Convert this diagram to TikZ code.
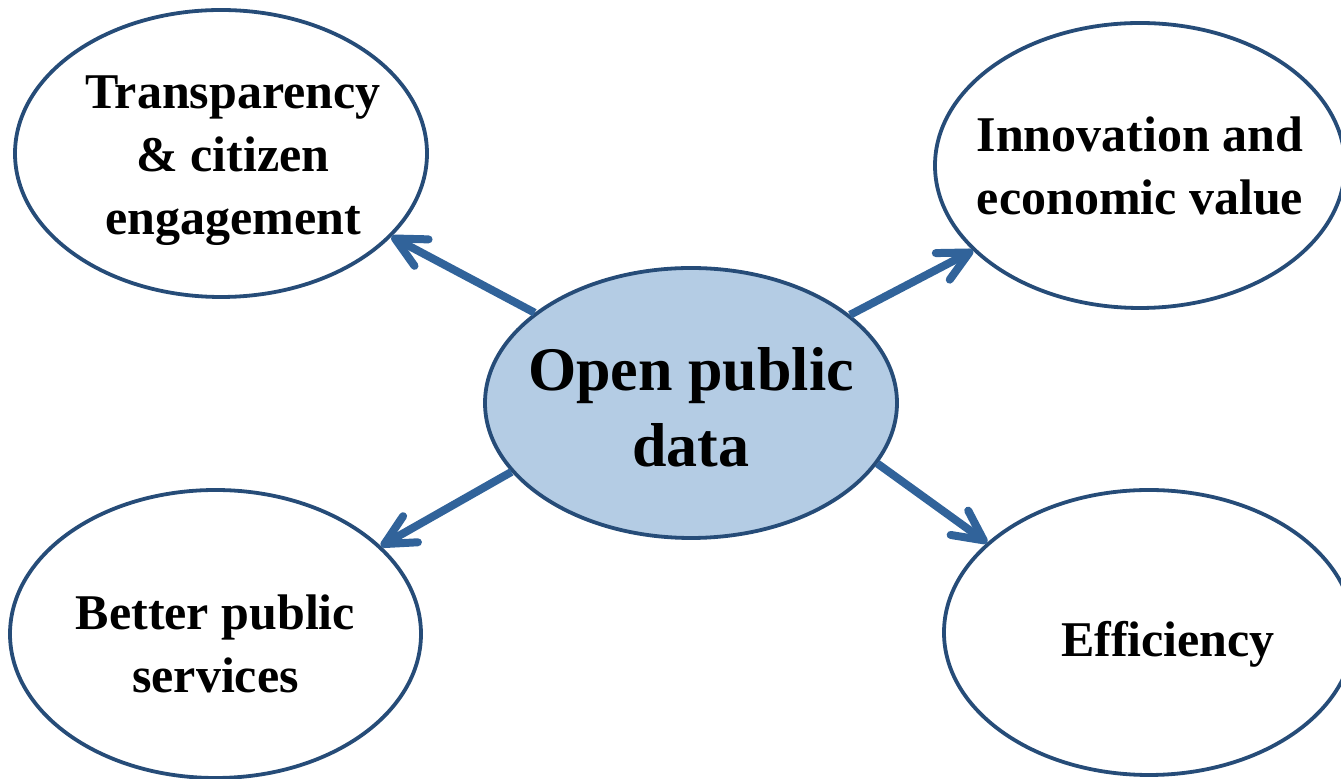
\documentclass[tikz,border=0pt]{standalone}
\usepackage{fontspec}
\setmainfont{Liberation Serif}
\usetikzlibrary{shapes.geometric,arrows.meta}

\definecolor{rim}{RGB}{38,76,120}
\definecolor{core}{RGB}{180,204,228}
\definecolor{link}{RGB}{49,99,154}

\begin{document}
\begin{tikzpicture}[x=0.5pt, y=-0.5pt,
    every node/.style={ellipse, draw=rim, line width=1.9pt, inner sep=0pt, inner xsep=-40pt, align=center,
      minimum width=205pt, minimum height=143pt, font=\bfseries\fontsize{25}{31.5}\selectfont},
    gain/.style={link, line width=4pt, -{Straight Barb[length=15pt,width=15pt,round]}}]
  \useasboundingbox (0,0) rectangle (1341,779);
  % centre
  \node[fill=core, minimum width=206pt, minimum height=135pt,
    font=\bfseries\fontsize{31}{38}\selectfont] (opd) at (691,403) {\rule{0pt}{26pt}Open public\\data};
  % benefits
  \node[minimum width=206pt, minimum height=143.5pt] (tce) at (221,153.5)
    {\rule{0pt}{24pt}\hspace*{12pt}Transparency\\\hspace*{12pt}\& citizen\\\hspace*{12pt}engagement};
  \node[minimum height=142.5pt] (iev) at (1140,165.5) {Innovation and\\economic value};
  \node[minimum width=205.5pt, minimum height=144pt] (bps) at (215.5,634) {\rule{0pt}{27pt}Better public\\services};
  \node[minimum height=142.5pt] (eff) at (1149,632.5) {\rule{0pt}{29.5pt}\hspace*{19pt}Efficiency};
  \draw[gain] (opd.150) -- (tce.334);
  \draw[gain] (opd.29) -- (iev.207);
  \draw[gain] (opd.201) -- (bps.28);
  \draw[gain] (opd.342) -- (eff.151);
\end{tikzpicture}
\end{document}
